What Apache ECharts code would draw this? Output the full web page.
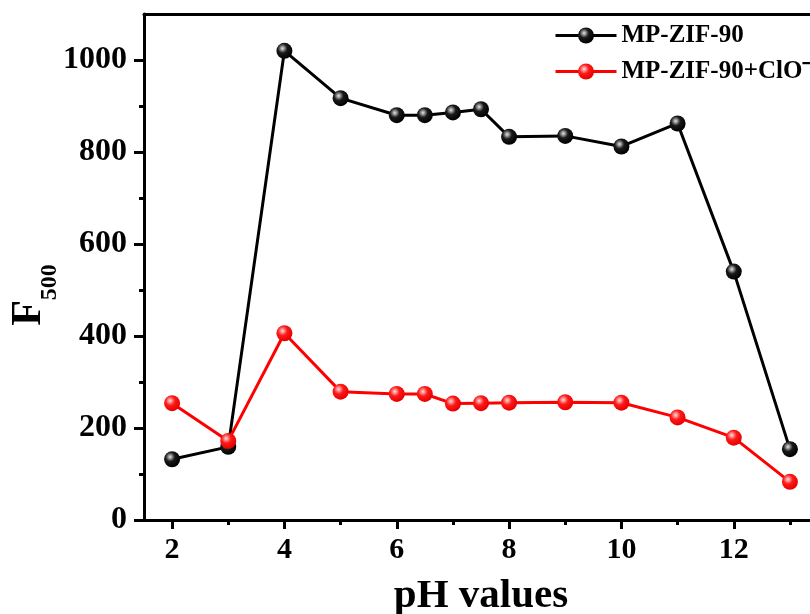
<!DOCTYPE html>
<html>
<head>
<meta charset="utf-8">
<script src="https://cdn.jsdelivr.net/npm/echarts@6/dist/echarts.min.js"></script>
<style>html,body{margin:0;padding:0;background:#fff;}#c{width:810px;height:614px;}</style>
</head>
<body>
<div id="c"></div>
<script>
const phValues = [2, 3, 4, 5, 6, 6.5, 7, 7.5, 8, 9, 10, 11, 12, 13];
const mpZif90 = [132, 159, 1020, 917, 880, 880, 886, 893, 833, 835, 812, 862, 540, 154];
const mpZif90ClO = [254, 172, 406, 279, 274, 274, 253, 254, 255, 256, 255, 223, 179, 83];
const xMajorTicks = [2, 4, 6, 8, 10, 12];
const xMinorTicks = [3, 5, 7, 9, 11, 13];
const yMajorTicks = [0, 200, 400, 600, 800, 1000];
const yMinorTicks = [100, 300, 500, 700, 900];
const seriesNames = ['MP-ZIF-90', 'MP-ZIF-90+ClO\u207B'];

const FONT = '"Liberation Serif", "Times New Roman", serif';

function sphere(hi, base, dark) {
  return {
    type: 'radial', x: 0.38, y: 0.35, r: 0.65,
    colorStops: [
      {offset: 0, color: hi},
      {offset: 0.45, color: base},
      {offset: 1, color: dark}
    ]
  };
}

const chart = echarts.init(document.getElementById('c'), null, {renderer: 'canvas'});
const pairs = (ys) => phValues.map((x, i) => [x, ys[i]]);

chart.setOption({
  animation: false,
  backgroundColor: '#fff',
  grid: {left: 144, top: 14, right: -8, bottom: 94, containLabel: false, outerBoundsMode: 'none'},
  legend: {
    left: 554, top: 23, orient: 'vertical', padding: 0,
    itemWidth: 61, itemHeight: 20, itemGap: 11,
    lineStyle: {width: 3},
    textStyle: {fontFamily: FONT, fontWeight: 'bold', fontSize: 25, color: '#000'},
    data: seriesNames
  },
  xAxis: [
    {
      type: 'value', min: 1.5, max: 13.5, position: 'bottom',
      axisLine: {show: true, lineStyle: {color: '#000', width: 3}},
      axisTick: {show: true, inside: false, length: 9, customValues: xMajorTicks, lineStyle: {color: '#000', width: 3}},
      axisLabel: {show: true, customValues: xMajorTicks, margin: 15, fontFamily: FONT, fontWeight: 'bold', fontSize: 30, color: '#000'},
      splitLine: {show: false},
      name: 'pH values', nameLocation: 'middle', nameGap: 56,
      nameTextStyle: {fontFamily: FONT, fontWeight: 'bold', fontSize: 41, color: '#000'}
    },
    {
      type: 'value', min: 1.5, max: 13.5, position: 'bottom',
      axisLine: {show: false},
      axisTick: {show: true, inside: false, length: 5, customValues: xMinorTicks, lineStyle: {color: '#000', width: 3}},
      axisLabel: {show: false}, splitLine: {show: false}
    },
    {
      type: 'value', min: 1.5, max: 13.5, position: 'top',
      axisLine: {show: true, lineStyle: {color: '#000', width: 3}},
      axisTick: {show: false}, axisLabel: {show: false}, splitLine: {show: false}
    }
  ],
  yAxis: [
    {
      type: 'value', min: 0, max: 1100, position: 'left',
      axisLine: {show: true, lineStyle: {color: '#000', width: 3}},
      axisTick: {show: true, inside: false, length: 10, customValues: yMajorTicks, lineStyle: {color: '#000', width: 3}},
      axisLabel: {show: true, customValues: yMajorTicks, margin: 17, formatter: (v) => String(v), fontFamily: FONT, fontWeight: 'bold', fontSize: 32, color: '#000'},
      splitLine: {show: false}
    },
    {
      type: 'value', min: 0, max: 1100, position: 'left',
      axisLine: {show: false},
      axisTick: {show: true, inside: false, length: 5, customValues: yMinorTicks, lineStyle: {color: '#000', width: 3}},
      axisLabel: {show: false}, splitLine: {show: false}
    }
  ],
  graphic: [{
    type: 'text', x: 35, y: 295, rotation: Math.PI / 2,
    style: {
      text: '{a|F}{b|500}', align: 'center', verticalAlign: 'middle',
      rich: {
        a: {fontFamily: FONT, fontWeight: 'bold', fontSize: 42, lineHeight: 42, verticalAlign: 'top', fill: '#000'},
        b: {fontFamily: FONT, fontWeight: 'bold', fontSize: 24, lineHeight: 54, verticalAlign: 'bottom', fill: '#000'}
      }
    }
  }],
  series: [
    {
      name: seriesNames[0], type: 'line', data: pairs(mpZif90),
      xAxisIndex: 0, yAxisIndex: 0,
      symbol: 'circle', symbolSize: 16,
      lineStyle: {color: '#000', width: 3},
      itemStyle: {color: sphere('#e6e6e6', '#1a1a1a', '#000'), borderWidth: 0}
    },
    {
      name: seriesNames[1], type: 'line', data: pairs(mpZif90ClO),
      xAxisIndex: 0, yAxisIndex: 0,
      symbol: 'circle', symbolSize: 16,
      lineStyle: {color: '#ff0000', width: 3},
      itemStyle: {color: sphere('#ffe0e0', '#ff1a1a', '#e60000'), borderWidth: 0}
    }
  ]
});
</script>
</body>
</html>
